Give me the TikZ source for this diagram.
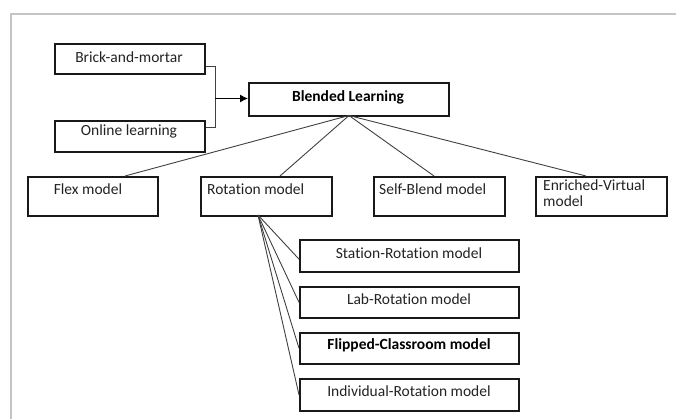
\documentclass[tikz,border=0pt]{standalone}
\usepackage{fontspec}
\setmainfont{Carlito}[Ligatures=NoCommon]
\usetikzlibrary{arrows.meta,calc}
\definecolor{framegray}{HTML}{C4C4C4}
\definecolor{txt}{HTML}{222222}
\tikzset{
  boxnode/.style={draw=black!90, line width=1.6pt, inner sep=0pt, anchor=north west},
  lbl/.style={inner sep=0pt, text=txt, font=\fontsize{15.5}{18}\selectfont},
  conn/.style={draw=black!75, line width=0.9pt},
}
\newcommand{\mybox}[5]{% name, x1, y1, x2, y2
  \node[boxnode, minimum width={(#4-#2)*1pt}, minimum height={(#5-#3)*1pt}] (#1) at (#2,#3) {};
}
\begin{document}
\begin{tikzpicture}[x=1pt,y=-1pt]
\useasboundingbox (0,0) rectangle (676,419);
\coordinate (fr1) at (676,14);
\coordinate (fr2) at (11,14);
\coordinate (fr3) at (11,419);
\draw[framegray, line width=1.2pt] (fr1) -- (fr2) -- (fr3);

% top boxes
\mybox{brick}{54}{43}{204}{73}
\mybox{online}{54}{120}{204}{151}
\mybox{blended}{248}{82}{448}{115}
\node[lbl] (brickt) at (129,57.5) {Brick-and-mortar};
\node[lbl] (onlinet) at (129,131) {Online learning};
\node[lbl, font=\fontsize{15.5}{18}\selectfont\bfseries, text=black] (blendedt) at (348,97) {Blended Learning};

% second row
\mybox{flex}{27}{176}{157}{215}
\mybox{rotation}{200}{176}{331}{215}
\mybox{selfblend}{373}{176}{504}{215}
\mybox{enriched}{535}{176}{666}{215}
\node[lbl] (flext) at (88,189.5) {Flex model};
\node[lbl, anchor=west] (rotationt) at (207,189.5) {Rotation model};
\node[lbl, anchor=west] (selfblendt) at (379,189.5) {Self-Blend model};
\node[lbl, anchor=north west, align=left, font=\fontsize{15.5}{16}\selectfont] (enrichedt) at (543,180) {Enriched-Virtual\\model};

% rotation sub-boxes
\mybox{station}{299}{239}{518}{271}
\mybox{lab}{299}{286}{518}{317}
\mybox{flipped}{299}{332}{518}{363}
\mybox{individual}{299}{378}{518}{410}
\node[lbl] (stationt) at (409,253) {Station-Rotation model};
\node[lbl] (labt) at (409,299) {Lab-Rotation model};
\node[lbl, font=\fontsize{15.5}{18}\selectfont\bfseries, text=black] (flippedt) at (409,345) {Flipped-Classroom model};
\node[lbl] (individualt) at (409,391) {Individual-Rotation model};

% merge connector
\coordinate (bj) at (215,66);
\coordinate (oj) at (215,127);
\coordinate (mj) at (215,98.5);
\draw[conn] (brick.east |- bj) -- (bj) -- (oj) -- (online.east |- oj);
\draw[conn, black, line width=1.1pt, -{Latex[length=8pt,width=8pt]}] (mj) -- (blended.west |- mj);

% blended hub
\coordinate (hubB) at (349,115.5);
\coordinate (flexend) at (125,176);
\coordinate (rotend) at (280,176);
\coordinate (selfend) at (434,176);
\coordinate (enrend) at (586,176);
\draw[conn] (hubB) -- (flexend);
\draw[conn] (hubB) -- (rotend);
\draw[conn] (hubB) -- (selfend);
\draw[conn] (hubB) -- (enrend);

% rotation hub
\coordinate (hubR) at (258,215);
\draw[conn] (hubR) -- ($(station.south west)!0.4!(station.north west)$);
\draw[conn] (hubR) -- (lab.west);
\draw[conn] (hubR) -- (flipped.west);
\draw[conn] (hubR) -- (individual.west);
\end{tikzpicture}
\end{document}
